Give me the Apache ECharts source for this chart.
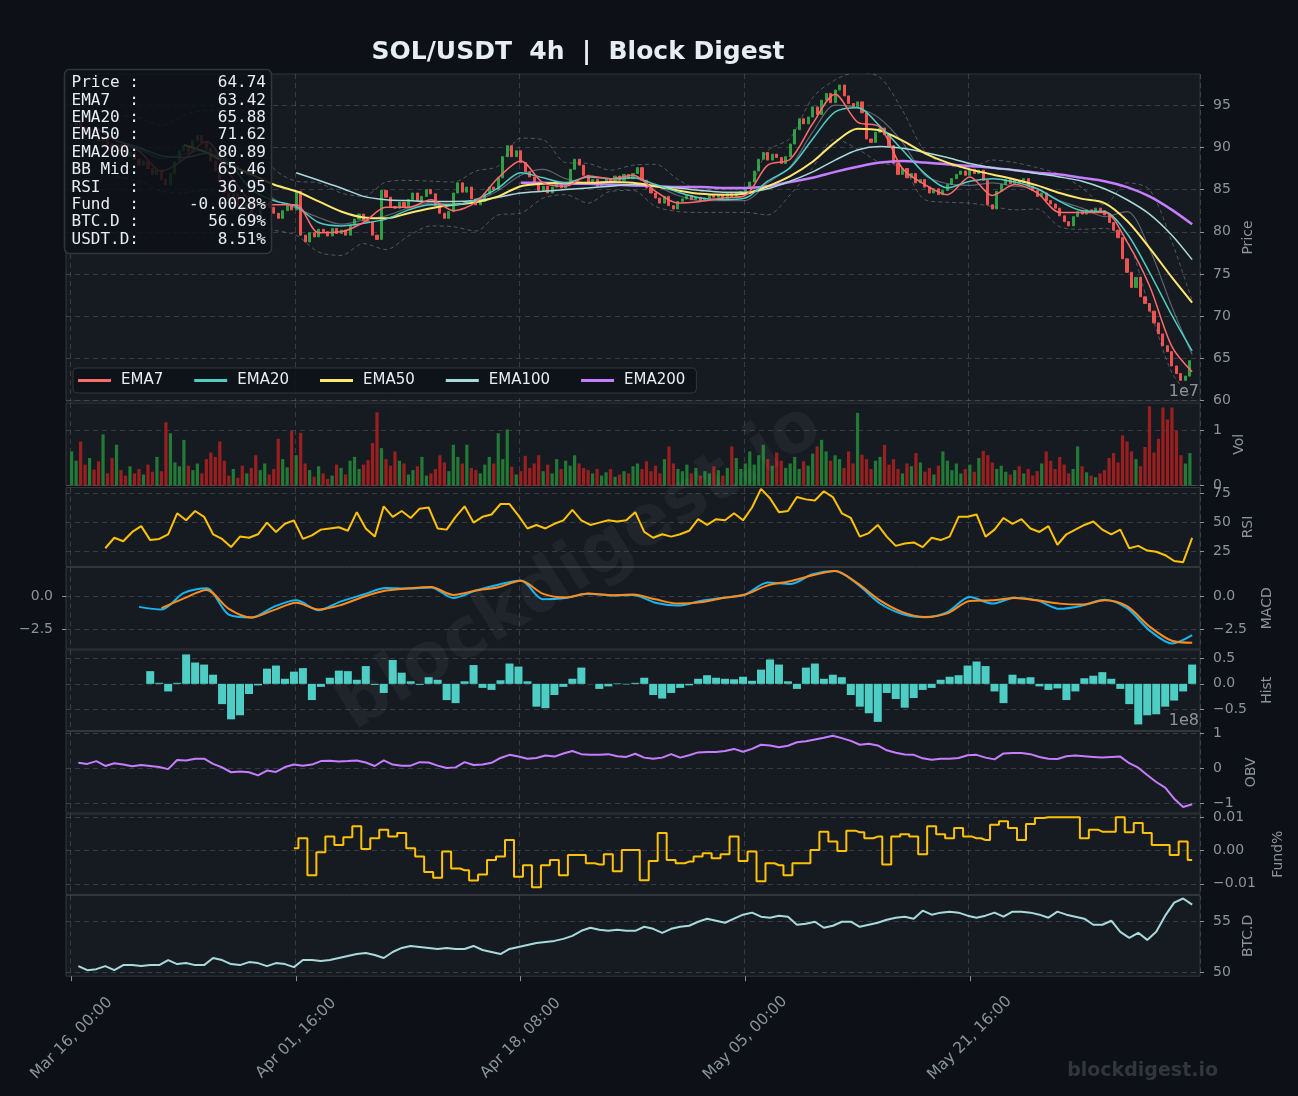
<!DOCTYPE html>
<html>
<head>
<meta charset="utf-8">
<title>SOL/USDT 4h | Block Digest</title>
<script src="https://cdn.jsdelivr.net/npm/echarts@6/dist/echarts.min.js"></script>
<style>
  html, body { margin: 0; padding: 0; background: #0d1117; }
  #chart { width: 1298px; height: 1096px; }
</style>
</head>
<body>
<div id="chart"></div>
<script>
// ---- x axis: 500 four-hour candles, a label every 100 candles ----
const TICK_LABELS = ['Mar 16, 00:00', 'Apr 01, 16:00', 'Apr 18, 08:00', 'May 05, 00:00', 'May 21, 16:00'];

const CLOSE = [
  92.6, 93.1, 92.4, 91.8, 92.2, 91.5, 90.8, 91.2, 90.4, 89.9,
  90.3, 89.6, 88.9, 89.4, 88.6, 87.9, 88.4, 87.5, 86.8, 87.3,
  86.2, 85.6, 86.9, 88.3, 89.6, 90.2, 89.5, 90.8, 91.4, 90.6,
  89.9, 88.4, 87.2, 85.9, 84.6, 83.8, 84.5, 83.2, 82.6, 83.4,
  82.1, 81.5, 82.7, 83.6, 82.9, 82.2, 81.6, 82.5, 83.1, 82.6,
  84.8, 79.6, 78.8, 79.9, 79.4, 80.3, 80.0, 79.5, 80.4, 79.8,
  80.2, 79.6, 80.8, 81.5, 82.1, 81.3, 81.2, 79.6, 79.1, 84.9,
  84.1, 83.0, 82.8, 83.5, 82.9, 83.8, 84.6, 83.7, 84.2, 85.0,
  84.5, 83.1, 82.2, 81.6, 82.4, 84.6, 85.8, 84.7, 85.3, 83.9,
  83.2, 83.6, 84.5, 85.3, 85.0, 86.4, 88.9, 90.2, 88.9, 89.6,
  88.2, 87.1, 86.5, 85.8, 84.9, 85.4, 84.6, 85.3, 85.9, 85.2,
  85.8, 87.4, 88.6, 87.9, 86.7, 85.6, 86.2, 85.4, 85.9, 86.3,
  86.0, 86.6, 86.1, 86.8, 86.3, 86.9, 87.6, 86.1, 85.2, 84.6,
  84.0, 83.4, 84.2, 83.1, 82.7, 83.6, 83.9, 84.3, 83.8, 84.1,
  83.7, 84.0, 84.4, 84.1, 84.3, 83.9, 84.5, 84.2, 84.6, 84.8,
  85.1, 85.9, 87.2, 88.6, 89.4, 88.5, 89.2, 88.8, 88.1, 88.9,
  90.4, 92.1, 93.4, 92.8, 93.6, 94.8, 93.9, 95.6, 96.4, 95.3,
  96.8, 97.4, 96.1, 95.2, 94.8, 95.4, 94.1, 91.0, 90.6, 91.8,
  92.3, 91.5, 90.2, 88.1, 86.8, 87.5, 86.4, 86.9, 85.8, 86.2,
  85.3, 84.6, 85.1, 84.4, 84.9, 85.6, 86.3, 86.8, 87.2, 86.7,
  87.4, 86.9, 87.3, 86.1, 83.2, 82.7, 84.8, 85.6, 86.2, 85.7,
  86.1, 85.8, 86.3, 85.4, 84.9, 84.2, 84.6, 83.7, 83.3, 82.8,
  81.9, 81.2, 80.7, 81.8, 82.4, 82.1, 82.6, 82.3, 82.8, 82.5,
  82.0, 81.1, 80.2, 79.3, 76.8, 75.2, 73.4, 74.6, 72.3, 71.5,
  70.6, 69.2, 67.9, 66.5, 65.8, 64.1, 63.2, 62.4, 62.9, 64.74
];

// volume (x1e7), same candles as CLOSE
const VOLUME = [
  0.62, 0.45, 0.80, 0.38, 0.50, 0.29, 0.44, 0.93, 0.22, 0.50,
  0.74, 0.28, 0.18, 0.35, 0.22, 0.30, 0.20, 0.38, 0.25, 0.52,
  0.26, 1.15, 0.95, 0.42, 0.35, 0.83, 0.36, 0.28, 0.40, 0.22,
  0.48, 0.60, 0.52, 0.80, 0.45, 0.18, 0.30, 0.14, 0.36, 0.22,
  0.32, 0.55, 0.28, 0.40, 0.20, 0.30, 0.85, 0.48, 0.33, 1.00,
  0.55, 0.96, 0.40, 0.28, 0.16, 0.35, 0.22, 0.12, 0.18, 0.38,
  0.32, 0.20, 0.45, 0.52, 0.30, 0.38, 0.46, 0.77, 1.33, 0.68,
  0.48, 0.36, 0.62, 0.45, 0.40, 0.20, 0.28, 0.35, 0.52, 0.18,
  0.22, 0.30, 0.55, 0.42, 0.26, 0.74, 0.52, 0.40, 0.74, 0.32,
  0.28, 0.22, 0.38, 0.52, 0.40, 0.95, 0.48, 1.02, 0.34, 0.20,
  0.26, 0.54, 0.32, 0.40, 0.55, 0.26, 0.38, 0.22, 0.48, 0.30,
  0.45, 0.36, 0.55, 0.40, 0.32, 0.28, 0.22, 0.30, 0.18, 0.24,
  0.30, 0.16, 0.20, 0.26, 0.22, 0.35, 0.40, 0.30, 0.44, 0.26,
  0.36, 0.22, 0.48, 0.71, 0.40, 0.30, 0.26, 0.38, 0.22, 0.32,
  0.18, 0.26, 0.22, 0.35, 0.28, 0.18, 0.32, 0.71, 0.50, 0.30,
  0.40, 0.62, 0.38, 0.55, 0.74, 0.48, 0.36, 0.60, 0.45, 0.32,
  0.40, 0.52, 0.30, 0.44, 0.36, 0.58, 0.71, 0.83, 0.62, 0.45,
  0.55, 0.48, 0.32, 0.62, 0.40, 1.32, 0.56, 0.48, 0.30, 0.45,
  0.52, 0.74, 0.38, 0.48, 0.30, 0.22, 0.40, 0.35, 0.59, 0.42,
  0.25, 0.32, 0.20, 0.36, 0.62, 0.45, 0.28, 0.40, 0.22, 0.30,
  0.38, 0.25, 0.50, 0.63, 0.55, 0.42, 0.30, 0.36, 0.25, 0.20,
  0.28, 0.35, 0.22, 0.30, 0.18, 0.26, 0.40, 0.62, 0.45, 0.30,
  0.52, 0.38, 0.22, 0.30, 0.71, 0.35, 0.24, 0.18, 0.15, 0.22,
  0.28, 0.50, 0.59, 0.42, 0.91, 0.80, 0.62, 0.48, 0.35, 0.70,
  1.44, 0.60, 0.85, 1.42, 1.20, 1.42, 1.00, 0.55, 0.40, 0.59
];

// moving averages / bands, read every 10th candle (last point = last candle)
const EMA7 = [
  92.5, 90.8, 89.6, 87.2, 88.6, 90.7, 87.0, 83.6, 83.2, 83.2,
  79.9, 80.0, 81.1, 82.9, 82.9, 83.8, 82.5, 83.5, 86.4, 88.4,
  85.8, 85.4, 86.6, 86.3, 86.7, 84.8, 83.4, 83.6, 84.0, 84.3,
  87.9, 88.6, 92.8, 96.3, 93.0, 92.4, 87.5, 85.6, 84.4, 86.5,
  84.3, 85.6, 84.6, 82.3, 82.3, 82.3, 78.8, 73.6, 66.4, 63.42
];
const EMA20 = [
  90.8, 90.0, 89.0, 88.8, 89.3, 88.2, 85.0, 83.7, 83.0, 81.1,
  80.7, 81.0, 81.5, 82.6, 83.2, 83.2, 83.8, 85.2, 87.0, 86.4,
  85.8, 86.5, 86.3, 86.4, 85.6, 84.7, 84.0, 83.8, 84.0, 86.0,
  87.6, 91.0, 94.2, 94.7, 92.5, 89.7, 86.9, 85.2, 86.0, 86.3,
  85.9, 85.1, 83.6, 82.5, 82.4, 79.8, 75.2, 70.1, 65.88
];
const EMA50 = [
  90.3, 89.4, 88.0, 86.8, 85.6, 84.8, 83.6, 82.4, 81.7, 81.6,
  82.2, 82.8, 83.2, 83.5, 84.2, 85.4, 85.7, 85.8, 85.8, 85.9,
  85.8, 85.4, 84.9, 84.5, 84.4, 84.5, 85.4, 86.6, 88.3, 90.6,
  92.2, 92.0, 90.8, 89.3, 88.2, 87.4, 86.8, 86.2, 85.5, 84.6,
  83.9, 83.4, 81.3, 78.1, 74.6, 71.62
];
const EMA100 = [
  87.0, 86.1, 85.2, 84.2, 83.8, 83.7, 83.6, 83.6, 83.7, 84.1,
  84.6, 84.8, 85.0, 85.2, 85.4, 85.6, 85.4, 85.2, 84.9, 84.7,
  84.7, 85.1, 86.0, 87.1, 88.5, 89.7, 90.1, 89.9, 89.4, 88.8,
  88.1, 87.6, 87.3, 86.9, 86.5, 86.0, 85.1, 83.8, 82.1, 79.6,
  76.7
];
const EMA200 = [
  85.8, 85.8, 85.7, 85.7, 85.6, 85.5, 85.4, 85.3, 85.3, 85.2,
  85.2, 85.4, 85.9, 86.4, 87.1, 87.7, 88.2, 88.4, 88.2, 88.0,
  87.8, 87.6, 87.3, 87.0, 86.8, 86.4, 86.0, 85.3, 84.2, 82.6,
  80.89
];
const BB_UP = [
  93.8, 93.5, 92.6, 93.8, 94.4, 94.2, 92.0, 87.5, 86.0, 85.8,
  84.6, 84.2, 85.9, 86.1, 86.0, 85.9, 87.2, 87.8, 91.1, 90.9,
  88.2, 88.1, 87.3, 87.9, 88.0, 86.2, 85.0, 85.0, 85.0, 89.6,
  91.1, 95.9, 98.0, 98.9, 98.3, 94.4, 89.5, 87.9, 87.6, 88.5,
  88.2, 87.6, 86.8, 85.2, 83.2, 85.8, 85.0, 78.8, 71.8
];
const BB_MID = [
  90.2, 89.8, 88.7, 89.2, 89.7, 88.5, 86.4, 83.9, 82.8, 81.7,
  80.9, 81.4, 81.9, 82.8, 83.4, 83.3, 83.7, 84.9, 86.7, 87.4,
  86.3, 85.8, 86.0, 86.4, 85.5, 84.3, 83.7, 83.7, 83.7, 85.8,
  87.7, 91.8, 95.0, 94.7, 93.4, 90.6, 86.7, 85.7, 85.5, 85.8,
  85.4, 85.1, 83.7, 82.8, 81.8, 82.4, 78.0, 71.1, 65.46
];
const BB_LOW = [
  86.5, 86.0, 84.8, 84.6, 85.0, 82.8, 80.8, 80.2, 79.6, 77.6,
  77.2, 78.6, 77.9, 79.5, 80.7, 80.6, 80.1, 82.0, 82.2, 84.0,
  84.4, 83.4, 84.8, 84.9, 83.0, 82.4, 82.3, 82.3, 82.3, 82.0,
  84.4, 87.6, 91.0, 89.8, 88.2, 87.6, 83.8, 83.5, 83.4, 83.0,
  82.6, 82.7, 80.6, 80.3, 80.4, 79.0, 71.0, 63.3, 60.3
];
const MACD = [
  -0.8, -1.0, 0.28, 0.62, -1.4, -1.62, -0.8, -0.3, -1.05, -0.38,
  0.15, 0.65, 0.6, 0.69, -0.12, 0.45, 0.9, 1.23, -0.22, -0.12,
  0.2, 0.08, 0.12, -0.48, -0.7, -0.35, -0.1, 0.15, 1.07, 0.95,
  1.7, 1.95, 0.94, -0.54, -1.35, -1.6, -1.2, -0.05, -0.55, -0.1,
  -0.3, -0.95, -0.7, -0.25, -0.9, -2.6, -3.6, -2.96
];
const MACD_SIGNAL = [
  -0.9, -0.15, 0.5, -0.95, -1.62, -1.05, -0.48, -1.0, -0.65, -0.02,
  0.45, 0.62, 0.72, 0.12, 0.45, 0.7, 1.2, 0.2, -0.08, 0.22,
  0.1, 0.14, -0.22, -0.55, -0.45, -0.12, 0.15, 0.85, 1.17, 1.62,
  1.95, 1.0, -0.3, -1.2, -1.58, -1.3, -0.35, -0.3, -0.12, -0.3,
  -0.55, -0.62, -0.3, -0.75, -2.3, -3.4, -3.55
];

// oscillators, read every 4th candle
const MACD_HIST = [
  0.25, 0.02, -0.15, 0.02, 0.58, 0.42, 0.38, 0.18, -0.40, -0.70,
  -0.62, -0.20, -0.03, 0.30, 0.36, 0.10, 0.24, 0.31, -0.32, -0.06,
  0.12, 0.26, 0.25, 0.08, 0.35, -0.02, -0.18, 0.47, 0.22, 0.05,
  -0.02, 0.13, 0.08, -0.32, -0.38, 0.05, 0.37, -0.08, -0.12, 0.07,
  0.40, 0.34, 0.05, -0.45, -0.48, -0.22, -0.06, 0.10, 0.32, 0.00,
  -0.10, -0.05, 0.01, -0.01, 0.02, 0.12, -0.22, -0.29, -0.18, -0.08,
  -0.03, 0.10, 0.17, 0.12, 0.10, 0.09, 0.14, 0.06, 0.28, 0.48,
  0.38, 0.05, -0.10, 0.32, 0.40, 0.10, 0.18, 0.13, -0.22, -0.45,
  -0.58, -0.75, -0.18, -0.30, -0.47, -0.28, -0.12, -0.08, 0.08, 0.14,
  0.17, 0.36, 0.44, 0.35, -0.15, -0.38, 0.18, 0.11, 0.13, -0.05,
  -0.12, -0.09, -0.32, -0.15, 0.11, 0.16, 0.23, 0.10, -0.10, -0.40,
  -0.80, -0.62, -0.60, -0.45, -0.33, -0.15, 0.38
];
const RSI = [
  28, 37, 34, 42, 47, 35, 36, 40, 58, 52,
  60, 55, 40, 36, 29, 38, 37, 40, 50, 42,
  49, 52, 36, 39, 44, 45, 46, 43, 59, 45,
  38, 64, 55, 60, 54, 62, 63, 45, 44, 55,
  64, 50, 55, 57, 66, 66, 56, 45, 48, 45,
  49, 52, 61, 52, 48, 50, 52, 51, 52, 59,
  42, 37, 40, 38, 40, 43, 53, 48, 53, 52,
  58, 52, 63, 79, 71, 59, 60, 72, 70, 69,
  77, 72, 58, 54, 38, 41, 48, 38, 30, 32,
  33, 29, 37, 35, 38, 55, 55, 57, 38, 44,
  54, 49, 53, 45, 42, 47, 31, 40, 44, 48,
  51, 44, 40, 44, 28, 30, 26, 25, 22, 17,
  16, 36.95
];
// on-balance volume (x1e8)
const OBV = [
  0.15, 0.12, 0.20, 0.06, 0.14, 0.10, 0.05, 0.09, 0.06, 0.03,
  -0.03, 0.23, 0.22, 0.27, 0.27, 0.12, 0.02, -0.12, -0.10, -0.12,
  -0.21, -0.07, -0.11, 0.03, 0.10, 0.07, 0.10, 0.20, 0.21, 0.19,
  0.20, 0.22, 0.16, 0.06, 0.22, 0.10, 0.07, 0.07, 0.17, 0.16,
  0.07, 0.00, 0.02, 0.17, 0.09, 0.10, 0.15, 0.29, 0.38, 0.33,
  0.27, 0.29, 0.36, 0.33, 0.42, 0.49, 0.40, 0.38, 0.38, 0.40,
  0.34, 0.32, 0.41, 0.30, 0.27, 0.30, 0.40, 0.30, 0.37, 0.45,
  0.46, 0.46, 0.49, 0.55, 0.47, 0.55, 0.67, 0.65, 0.60, 0.64,
  0.74, 0.77, 0.82, 0.87, 0.93, 0.86, 0.78, 0.67, 0.70, 0.65,
  0.51, 0.44, 0.39, 0.38, 0.28, 0.24, 0.27, 0.27, 0.29, 0.37,
  0.38, 0.30, 0.25, 0.42, 0.43, 0.43, 0.40, 0.32, 0.27, 0.26,
  0.34, 0.36, 0.34, 0.32, 0.30, 0.32, 0.33, 0.14, 0.01, -0.20,
  -0.40, -0.56, -0.88, -1.12, -1.04
];
// funding rate, %
const FUNDING = [
  0.0007, 0.0037, -0.0074, -0.0005, 0.0042, 0.0017, 0.0040, 0.0073, 0.0005, 0.0037,
  0.0063, 0.0042, 0.0053, 0.0007, -0.0018, -0.0064, -0.0082, -0.0003, -0.0054, -0.0059,
  -0.0090, -0.0072, -0.0028, -0.0018, 0.0032, -0.0079, -0.0044, -0.0110, -0.0044, -0.0028,
  -0.0074, -0.0013, -0.0013, -0.0038, -0.0042, -0.0011, -0.0062, 0.0002, 0.0002, -0.0089,
  -0.0031, 0.0053, -0.0028, -0.0038, -0.0033, -0.0018, -0.0008, -0.0023, -0.0011, 0.0042,
  -0.0031, -0.0003, -0.0092, -0.0038, -0.0044, -0.0074, -0.0038, -0.0038, 0.0002, 0.0057,
  0.0027, -0.0001, 0.0060, 0.0055, 0.0037, 0.0042, -0.0042, 0.0042, 0.0049, 0.0042,
  -0.0011, 0.0073, 0.0049, 0.0037, 0.0068, 0.0042, 0.0037, 0.0032, 0.0078, 0.0088,
  0.0068, 0.0032, 0.0080, 0.0098, 0.0100, 0.0100, 0.0100, 0.0100, 0.0037, 0.0063,
  0.0057, 0.0057, 0.0100, 0.0055, 0.0083, 0.0053, 0.0017, 0.0017, -0.0013, 0.0027,
  -0.0028
];
// BTC dominance, %
const BTC_D = [
  50.6, 50.2, 50.3, 50.6, 50.2, 50.7, 50.7, 50.6, 50.7, 50.7,
  51.2, 50.8, 50.9, 50.7, 50.7, 51.4, 51.2, 50.8, 50.7, 51.0,
  50.9, 50.6, 50.9, 50.8, 50.5, 51.2, 51.2, 51.1, 51.2, 51.4,
  51.6, 51.8, 51.9, 51.7, 51.4, 52.0, 52.4, 52.6, 52.5, 52.4,
  52.3, 52.4, 52.3, 52.3, 52.6, 52.2, 52.0, 51.8, 52.3, 52.5,
  52.7, 52.9, 53.0, 53.1, 53.3, 53.6, 54.1, 54.4, 54.2, 54.1,
  54.2, 54.1, 54.1, 54.5, 54.3, 53.9, 54.3, 54.5, 54.6, 55.0,
  55.3, 55.1, 54.9, 55.3, 55.7, 55.9, 55.5, 55.4, 55.6, 55.5,
  54.7, 54.8, 55.0, 54.4, 54.6, 55.0, 55.0, 54.5, 54.7, 54.9,
  55.2, 55.4, 55.5, 55.3, 56.1, 55.7, 55.9, 56.0, 55.9, 55.6,
  55.4, 55.6, 55.9, 55.5, 56.0, 56.0, 55.9, 55.7, 55.4, 56.0,
  55.7, 55.5, 55.3, 54.7, 54.7, 55.1, 54.0, 53.4, 53.9, 53.2,
  54.0, 55.6, 56.9, 57.3, 56.69
];
const USDT_D = 8.51;

// tick values per panel
const PRICE_TICKS = [60, 65, 70, 75, 80, 85, 90, 95];
const VOL_TICKS = [0, 1];
const RSI_TICKS = [25, 50, 75];
const MACD_TICKS = [-2.5, 0];
const HIST_TICKS = [-0.5, 0, 0.5];
const OBV_TICKS = [-1, 0, 1];
const FUND_TICKS = [-0.01, 0, 0.01];
const BTC_TICKS = [50, 55];

// ---------------- layout / style ----------------
const FONT = 'DejaVu Sans';
const MONO = 'DejaVu Sans Mono';
const TXT = '#8b949e';
const GRID_LINE = 'rgba(139,148,158,0.28)';
const UP = '#2ea043', DOWN = '#f0524f';
const VOL_UP = '#217a35', VOL_DOWN = '#9c1f1f';

const OFF = 2;           // empty slots before the first candle
const N_CAT = 505;
const categories = Array.from({ length: N_CAT }, (_, i) => 'c' + i);
const LAST = 499;

// slot of each sample on the candle axis
const candleSlot = i => 2 * i;
const coarseSlot = i => Math.min(10 * i, LAST);
const fineSlot = i => 4 * i + 3;

const PANELS = [
  { top: 74, height: 327 },     // price
  { top: 403, height: 82.5 },   // volume
  { top: 487.5, height: 79 },   // rsi
  { top: 567.5, height: 81.5 }, // macd
  { top: 650, height: 80.5 },   // hist
  { top: 731.5, height: 81.5 }, // obv
  { top: 814, height: 80.5 },   // funding
  { top: 895.5, height: 80.7 }  // btc.d
];

const isTick = (index) => {
  const s = index - OFF;
  return s >= 0 && s % 100 === 0 && s / 100 < TICK_LABELS.length;
};
const fmt = d => v => {
  const s = Math.abs(v).toFixed(d);
  return v < 0 ? '\u2212' + s : s;
};

function timeAxis(gridIndex, bottom) {
  return {
    type: 'category', gridIndex, data: categories, boundaryGap: true,
    axisLine: { show: false },
    axisTick: { show: bottom, interval: isTick, alignWithLabel: true, length: 5, lineStyle: { color: TXT } },
    axisLabel: {
      show: bottom, interval: isTick, rotate: 45, align: 'center', verticalAlign: 'middle',
      margin: 62, color: TXT, fontSize: 15.5, fontFamily: FONT,
      formatter: (v, i) => TICK_LABELS[(i - OFF) / 100]
    },
    splitLine: { show: true, interval: isTick, lineStyle: { color: GRID_LINE, type: [5, 4] } }
  };
}

function valueAxis(gridIndex, min, max, ticks, formatter, name, nameGap, side) {
  const left = side === 'left';
  return {
    type: 'value', gridIndex, position: left ? 'left' : 'right', min, max,
    name: left ? '' : name, nameLocation: 'middle', nameRotate: 90, nameGap,
    nameTextStyle: { color: TXT, fontSize: 14, fontFamily: FONT },
    axisLine: { show: false },
    axisTick: { show: true, length: 4, lineStyle: { color: TXT }, customValues: ticks },
    axisLabel: { color: TXT, fontSize: 14, fontFamily: FONT, margin: 13, customValues: ticks, formatter },
    splitLine: { show: !left, lineStyle: { color: GRID_LINE, type: [5, 4] } }
  };
}

function line(name, arr, start, slotOf, axis, color, width, extra) {
  return Object.assign({
    name, type: 'line', xAxisIndex: axis[0], yAxisIndex: axis[1],
    data: arr.map((v, i) => [slotOf(start + i) + OFF, v]),
    showSymbol: false, symbol: 'none', silent: true,
    lineStyle: { color, width }, itemStyle: { color },
    emphasis: { disabled: true }
  }, extra || {});
}
const SMOOTH = { smooth: 0.3 };
const dashed = c => ({ smooth: 0.3, lineStyle: { color: c, width: 1, type: [4, 3] } });

const candleData = CLOSE.map((c, k) => {
  const o = k > 0 ? CLOSE[k - 1] : c;
  return [candleSlot(k) + OFF, o, c, Math.min(o, c), Math.max(o, c)];
});
const volData = VOLUME.map((v, k) => ({
  value: [candleSlot(k) + OFF, v],
  itemStyle: { color: candleData[k][2] >= candleData[k][1] ? VOL_UP : VOL_DOWN }
}));
const histData = MACD_HIST.map((v, i) => [fineSlot(8 + i) + OFF, v]);

const last = a => a[a.length - 1];
const INFO = [
  ['Price :', last(CLOSE).toFixed(2)],
  ['EMA7  :', last(EMA7).toFixed(2)],
  ['EMA20 :', last(EMA20).toFixed(2)],
  ['EMA50 :', last(EMA50).toFixed(2)],
  ['EMA200:', last(EMA200).toFixed(2)],
  ['BB Mid:', last(BB_MID).toFixed(2)],
  ['RSI   :', last(RSI).toFixed(2)],
  ['Fund  :', last(FUNDING).toFixed(4) + '%'],
  ['BTC.D :', last(BTC_D).toFixed(2) + '%'],
  ['USDT.D:', USDT_D.toFixed(2) + '%']
];
const infoTexts = [];
INFO.forEach((row, i) => {
  const y = 83 + i * 17.4;
  infoTexts.push({ type: 'text', x: 71.5, y, z: 101, style: { text: row[0], fill: '#e6edf3', font: '16px ' + MONO, textVerticalAlign: 'middle' } });
  infoTexts.push({ type: 'text', x: 266, y, z: 101, style: { text: row[1], fill: '#e6edf3', font: '16px ' + MONO, textAlign: 'right', textVerticalAlign: 'middle' } });
});

const myChart = echarts.init(document.getElementById('chart'));

const option = {
  animation: false,
  backgroundColor: '#0d1117',
  grid: PANELS.map(p => ({
    left: 66, width: 1134, top: p.top, height: p.height,
    show: true, backgroundColor: '#161b22', borderColor: '#30363d', borderWidth: 1
  })),
  xAxis: PANELS.map((p, i) => timeAxis(i, i === PANELS.length - 1)),
  yAxis: [
    valueAxis(0, 59.95, 98.7, PRICE_TICKS, fmt(0), 'Price', 41),
    valueAxis(1, 0, 1.5, VOL_TICKS, fmt(0), 'Vol', 28),
    valueAxis(2, 12.3, 80.2, RSI_TICKS, fmt(0), 'RSI', 41),
    valueAxis(3, -4.03, 2.22, MACD_TICKS, fmt(1), 'MACD', 60),
    valueAxis(3, -4.03, 2.22, MACD_TICKS, fmt(1), '', 0, 'left'),
    valueAxis(4, -0.92, 0.667, HIST_TICKS, fmt(1), 'Hist', 60),
    valueAxis(5, -1.29, 1.05, OBV_TICKS, fmt(0), 'OBV', 41),
    valueAxis(6, -0.0132, 0.011, FUND_TICKS, fmt(2), 'Fund%', 71),
    valueAxis(7, 49.6, 57.6, BTC_TICKS, fmt(0), 'BTC.D', 41)
  ],
  legend: {
    data: ['EMA7', 'EMA20', 'EMA50', 'EMA100', 'EMA200'],
    left: 73, top: 368, icon: 'rect', itemWidth: 33, itemHeight: 3, itemGap: 31,
    backgroundColor: 'rgba(13,17,23,0.85)', borderColor: '#30363d', borderWidth: 1, borderRadius: 4,
    padding: [5, 11, 5, 5],
    textStyle: { color: '#e6edf3', fontSize: 15, fontFamily: FONT, padding: [0, 0, 0, 5] }
  },
  series: [
    {
      name: 'SOL', type: 'candlestick', xAxisIndex: 0, yAxisIndex: 0,
      data: candleData, encode: { x: 0, y: [1, 2, 3, 4] },
      barWidth: 2.6, silent: true,
      itemStyle: { color: UP, color0: DOWN, borderColor: UP, borderColor0: DOWN, borderWidth: 1 }
    },
    line('BB Up', BB_UP, 2, coarseSlot, [0, 0], 'rgba(139,148,158,0.5)', 1, dashed('rgba(139,148,158,0.5)')),
    line('BB Low', BB_LOW, 2, coarseSlot, [0, 0], 'rgba(139,148,158,0.5)', 1, dashed('rgba(139,148,158,0.5)')),
    line('BB Mid', BB_MID, 2, coarseSlot, [0, 0], 'rgba(139,148,158,0.6)', 1.2, SMOOTH),
    line('EMA200', EMA200, 20, coarseSlot, [0, 0], '#c77dff', 2.5, SMOOTH),
    line('EMA100', EMA100, 10, coarseSlot, [0, 0], '#a8dadc', 1.5, SMOOTH),
    line('EMA50', EMA50, 5, coarseSlot, [0, 0], '#ffe66d', 2, SMOOTH),
    line('EMA20', EMA20, 2, coarseSlot, [0, 0], '#4ecdc4', 1.5, SMOOTH),
    line('EMA7', EMA7, 1, coarseSlot, [0, 0], '#ff6b6b', 1.5, SMOOTH),
    {
      name: 'Vol', type: 'bar', xAxisIndex: 1, yAxisIndex: 1,
      data: volData, barWidth: 3.2, silent: true
    },
    line('RSI', RSI, 3, fineSlot, [2, 2], '#ffc107', 2),
    line('MACD', MACD, 3, coarseSlot, [3, 3], '#17b5f5', 2, SMOOTH),
    line('Signal', MACD_SIGNAL, 4, coarseSlot, [3, 3], '#ff8c1a', 2, SMOOTH),
    {
      name: 'Hist', type: 'bar', xAxisIndex: 4, yAxisIndex: 5,
      data: histData, barWidth: 8, silent: true, itemStyle: { color: '#4ecdc4' }
    },
    line('OBV', OBV, 0, fineSlot, [5, 6], '#c77dff', 2),
    line('Fund', FUNDING, 24, fineSlot, [6, 7], '#ffc107', 2, { step: 'middle' }),
    line('BTC.D', BTC_D, 0, fineSlot, [7, 8], '#a8dadc', 2)
  ],
  graphic: [
    {
      type: 'text', x: 578, y: 52, z: 100,
      style: { text: 'SOL/USDT  4h  |  Block Digest', fill: '#e6edf3', font: 'bold 25px ' + FONT, textAlign: 'center', textVerticalAlign: 'middle' }
    },
    {
      type: 'text', x: 580, y: 568, z: 100, rotation: Math.PI * 32 / 180,
      style: { text: 'blockdigest.io', fill: 'rgba(255,255,255,0.045)', font: 'bold 70px ' + FONT, textAlign: 'center', textVerticalAlign: 'middle' }
    },
    {
      type: 'text', x: 1218, y: 1071, z: 100,
      style: { text: 'blockdigest.io', fill: '#30363d', font: 'bold 19px ' + FONT, textAlign: 'right', textVerticalAlign: 'middle' }
    },
    {
      type: 'text', x: 1199, y: 392, z: 100,
      style: { text: '1e7', fill: TXT, font: '16px ' + FONT, textAlign: 'right', textVerticalAlign: 'middle' }
    },
    {
      type: 'text', x: 1199, y: 721, z: 100,
      style: { text: '1e8', fill: TXT, font: '16px ' + FONT, textAlign: 'right', textVerticalAlign: 'middle' }
    },
    {
      type: 'rect', z: 100,
      shape: { x: 64.5, y: 69.5, width: 207, height: 184, r: 5 },
      style: { fill: 'rgba(13,17,23,0.86)', stroke: '#30363d', lineWidth: 1.5 }
    }
  ].concat(infoTexts)
};

option && myChart.setOption(option);
window.addEventListener('resize', myChart.resize);
</script>
</body>
</html>
